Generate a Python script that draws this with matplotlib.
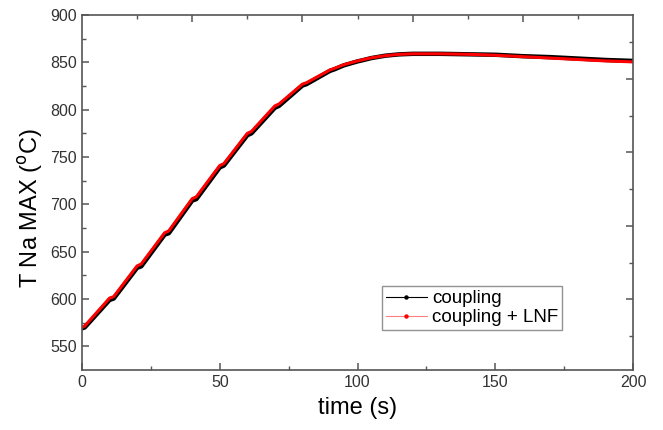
import matplotlib.pyplot as plt
from matplotlib.lines import Line2D

plt.rcParams['font.family'] = ['Liberation Sans', 'DejaVu Sans']

# time axis (s), with short flat steps after every 10 s
time_s = [0, 1, 10, 11.5, 20, 21.5, 30, 31.5, 40, 41.5, 50, 51.5, 60, 61.5,
          70, 71.5, 80, 81.5, 90, 91.5, 95, 100, 101.5, 105, 110, 115, 120,
          130, 140, 150, 160, 170, 180, 190, 200]

# coupling + LNF (red)
t_lnf = [570, 571.5, 601, 602.5, 635, 637, 670, 672, 706, 708, 741, 743,
         775, 777, 804, 806, 827, 828.5, 842, 843.5, 847.5, 851.5, 852.5,
         854.8, 857, 858.4, 859, 859, 858.5, 857.5, 856, 854.5, 853, 851.5,
         850.5]

# coupling (black)
t_coupling = [569, 570, 599, 600.5, 633, 634.5, 668, 669.5, 704, 705.5, 739,
              741, 773, 775, 802, 804, 825.5, 827, 841, 842.5, 846.8, 851,
              852, 854.5, 857, 858.4, 859, 859, 858.5, 858, 856.5, 855.5, 854,
              852.5, 851.5]

fig = plt.figure(figsize=(6.63, 4.30), dpi=100)
ax = fig.add_axes([0.1237, 0.1395, 0.8311, 0.8256])

ax.plot(time_s, t_coupling, color='black', lw=3.2, solid_capstyle='round',
        solid_joinstyle='round')
ax.plot(time_s, t_lnf, color='#ff0000', lw=2.2, solid_capstyle='round',
        solid_joinstyle='round')

ax.set_xlim(0, 200)
ax.set_ylim(525, 900)
ax.set_xticks([0, 50, 100, 150, 200])
ax.set_xticks([25, 75, 125, 175], minor=True)
ax.set_yticks([550, 600, 650, 700, 750, 800, 850, 900])
ax.set_yticks([575, 625, 675, 725, 775, 825, 875], minor=True)

spine_color = '#555555'
for s in ax.spines.values():
    s.set_color(spine_color)
    s.set_linewidth(1.2)
ax.tick_params(which='both', direction='in', colors='#333333',
               labelsize=11.5, top=False, right=False)
ax.tick_params(which='major', length=5, width=1.1, color=spine_color)
ax.tick_params(which='minor', length=3, width=1.0, color=spine_color)

# independent ticks on the top and right frame
top = ax.secondary_xaxis('top')
top.set_xticks([40, 80, 120, 160])
top.set_xticks([20, 60, 100, 140, 180], minor=True)
top.tick_params(which='both', direction='in', labeltop=False,
                color=spine_color)
top.tick_params(which='major', length=5, width=1.1)
top.tick_params(which='minor', length=3, width=1.0)
top.spines['top'].set_visible(False)

right = ax.secondary_yaxis('right')
right.set_yticks([600, 677.5, 755, 832.5])
right.set_yticks([561, 638.5, 716, 793.5, 871], minor=True)
right.tick_params(which='both', direction='in', labelright=False,
                  color=spine_color)
right.tick_params(which='major', length=5, width=1.1)
right.tick_params(which='minor', length=3, width=1.0)
right.spines['right'].set_visible(False)

ax.set_xlabel('time (s)', fontsize=17, labelpad=5)
ax.set_ylabel('T Na MAX ($^{\\rm o}$C)', fontsize=17)
ax.yaxis.set_label_coords(-0.068, 0.455)

handles = [
    Line2D([], [], color='black', lw=0.8, marker='o', markersize=2.2),
    Line2D([], [], color='#ff8080', lw=0.8, marker='o', markersize=2.2,
           markerfacecolor='red', markeredgecolor='red'),
]
leg = ax.legend(handles, ['coupling', 'coupling + LNF'], loc='lower left',
                bbox_to_anchor=(0.544, 0.113), fontsize=13.5, frameon=True,
                fancybox=False, handlelength=2.2, handletextpad=0.3,
                borderpad=0.2, labelspacing=0.1, borderaxespad=0)
leg.get_frame().set_edgecolor('#777777')
leg.get_frame().set_linewidth(1.0)

fig.savefig('out.png', dpi=100)
